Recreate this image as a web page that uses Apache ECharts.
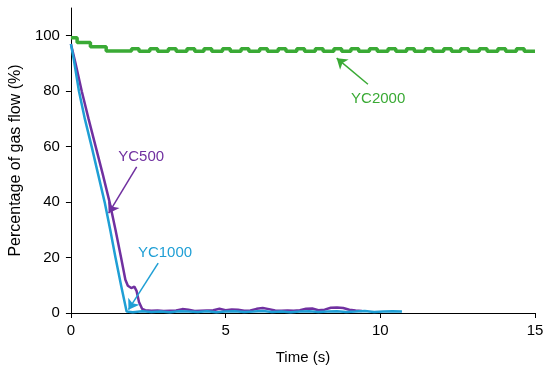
<!DOCTYPE html>
<html>
<head>
<meta charset="utf-8">
<script src="https://cdn.jsdelivr.net/npm/echarts@6/dist/echarts.min.js"></script>
<style>html,body{margin:0;padding:0;background:#fff}#c{width:550px;height:373px}</style>
</head>
<body>
<div id="c"></div>
<script>
// Tick values
var xTicks = [0, 5, 10, 15];
var yTicks = [0, 20, 40, 60, 80, 100];

// YC2000 (step line): times of level change and values
var yc2000T = [0, 0.2, 0.63, 1.14, 1.96, 2.2, 2.55, 2.8, 3.15, 3.4, 3.75, 4.0, 4.3, 4.55, 4.9, 5.15, 5.5, 5.75, 6.1, 6.35, 6.7, 6.95, 7.3, 7.55, 7.9, 8.15, 8.5, 8.75, 9.05, 9.3, 9.65, 9.9, 10.25, 10.5, 10.85, 11.1, 11.45, 11.7, 12.05, 12.3, 12.6, 12.85, 13.2, 13.45, 13.8, 14.05, 14.4, 14.65, 15];
var yc2000V = [99.3, 97.6, 96.0, 94.5, 95.3, 94.4, 95.3, 94.4, 95.3, 94.4, 95.3, 94.4, 95.3, 94.4, 95.3, 94.4, 95.3, 94.4, 95.3, 94.4, 95.3, 94.4, 95.3, 94.4, 95.3, 94.4, 95.3, 94.4, 95.3, 94.4, 95.3, 94.4, 95.3, 94.4, 95.3, 94.4, 95.3, 94.4, 95.3, 94.4, 95.3, 94.4, 95.3, 94.4, 95.3, 94.4, 95.3, 94.4, 94.4];

// YC500
var yc500T = [0, 0.15, 0.35, 0.57, 0.8, 1.03, 1.25, 1.44, 1.62, 1.76, 1.84, 1.95, 2.05, 2.12, 2.2, 2.3, 2.4, 2.6, 2.8, 3.0, 3.2, 3.4, 3.6, 3.8, 4.0, 4.2, 4.4, 4.6, 4.8, 5.0, 5.2, 5.4, 5.6, 5.8, 6.0, 6.2, 6.4, 6.6, 6.8, 7.0, 7.2, 7.4, 7.6, 7.8, 8.0, 8.2, 8.4, 8.6, 8.8, 9.0, 9.2, 9.4];
var yc500V = [97, 90, 80, 70, 60, 50, 40, 30, 20, 12, 9.8, 9, 9.5, 8, 4, 1.5, 1.0, 0.8, 0.9, 0.7, 0.8, 0.9, 1.4, 1.2, 0.7, 0.8, 0.9, 1.0, 1.5, 1.0, 1.3, 1.2, 0.8, 0.9, 1.5, 1.8, 1.4, 0.9, 0.8, 0.9, 0.8, 1.0, 1.5, 1.6, 1.0, 1.2, 1.9, 2.0, 1.8, 1.2, 0.9, 0.7];

// YC1000
var yc1000T = [0, 0.1, 0.26, 0.45, 0.67, 0.88, 1.09, 1.27, 1.44, 1.62, 1.8, 2.0, 2.3, 2.6, 2.9, 3.2, 3.5, 3.8, 4.1, 4.4, 4.7, 5.0, 5.3, 5.6, 5.9, 6.2, 6.5, 6.8, 7.1, 7.4, 7.7, 8.0, 8.3, 8.6, 8.9, 9.2, 9.5, 9.8, 10.1, 10.4, 10.7];
var yc1000V = [97, 91, 80, 70, 60, 50, 40, 30, 20, 10, 0.5, 0.3, 0.6, 0.4, 0.5, 0.3, 0.6, 0.5, 0.4, 0.6, 0.3, 0.5, 0.6, 0.4, 0.5, 0.7, 0.4, 0.5, 0.3, 0.5, 0.6, 0.4, 0.5, 0.6, 0.4, 0.5, 0.7, 0.4, 0.5, 0.6, 0.5];

function pairs(t, v) { return t.map(function (x, i) { return [x, v[i]]; }); }

var GREEN = '#3aaa35', PURPLE = '#7030a0', CYAN = '#1f9fd5';
var FONT = 'Liberation Sans, Arial, sans-serif';

function annot(color, label, textPos, tail, head) {
  return {
    markLine: {
      silent: true, animation: false,
      symbol: ['none', 'arrow'], symbolSize: 10,
      lineStyle: { color: color, width: 1.5, type: 'solid' },
      label: { show: false },
      data: [[{ coord: tail }, { coord: head }]]
    },
    markPoint: {
      silent: true, animation: false,
      symbol: 'circle', symbolSize: 0,
      label: { show: true, position: 'inside', formatter: label, color: color, fontSize: 15, fontFamily: FONT },
      data: [{ coord: textPos }]
    }
  };
}

var a2000 = annot(GREEN, 'YC2000', [9.93, 77.3], [9.6, 82.5], [8.59, 91.9]);
var a500 = annot(PURPLE, 'YC500', [2.27, 56.3], [2.125, 52.7], [1.22, 36]);
var a1000 = annot(CYAN, 'YC1000', [3.04, 21.6], [2.82, 18], [1.86, 1.2]);

var chart = echarts.init(document.getElementById('c'));
chart.setOption({
  animation: false,
  backgroundColor: '#fff',
  grid: { left: 67, right: 15, top: 8, bottom: 60, containLabel: false },
  xAxis: {
    type: 'value', min: 0, max: 15, interval: 5,
    name: 'Time (s)', nameLocation: 'middle', nameGap: 37,
    nameTextStyle: { color: '#000', fontSize: 15, fontFamily: FONT },
    axisLine: { show: true, lineStyle: { color: '#000', width: 1 } },
    axisTick: { show: true, length: 5, lineStyle: { color: '#000' }, customValues: xTicks },
    axisLabel: { color: '#000', fontSize: 15, fontFamily: FONT, margin: 10, customValues: xTicks },
    splitLine: { show: false }
  },
  yAxis: {
    type: 'value', min: 0, max: 110, interval: 20,
    name: 'Percentage of gas flow (%)', nameLocation: 'middle', nameGap: 41,
    nameTextStyle: { color: '#000', fontSize: 16, fontFamily: FONT },
    axisLine: { show: true, lineStyle: { color: '#000', width: 1 } },
    axisTick: { show: true, length: 5, lineStyle: { color: '#000' }, customValues: yTicks },
    axisLabel: { color: '#000', fontSize: 15, fontFamily: FONT, margin: 11, customValues: yTicks },
    splitLine: { show: false }
  },
  series: [
    Object.assign({
      name: 'YC2000', type: 'line', step: 'end', showSymbol: false,
      data: pairs(yc2000T, yc2000V),
      lineStyle: { color: GREEN, width: 3.5 }, itemStyle: { color: GREEN }
    }, a2000),
    Object.assign({
      name: 'YC500', type: 'line', showSymbol: false,
      data: pairs(yc500T, yc500V),
      lineStyle: { color: PURPLE, width: 2.5 }, itemStyle: { color: PURPLE }
    }, a500),
    Object.assign({
      name: 'YC1000', type: 'line', showSymbol: false,
      data: pairs(yc1000T, yc1000V),
      lineStyle: { color: CYAN, width: 2.5 }, itemStyle: { color: CYAN }
    }, a1000)
  ]
});
</script>
</body>
</html>
